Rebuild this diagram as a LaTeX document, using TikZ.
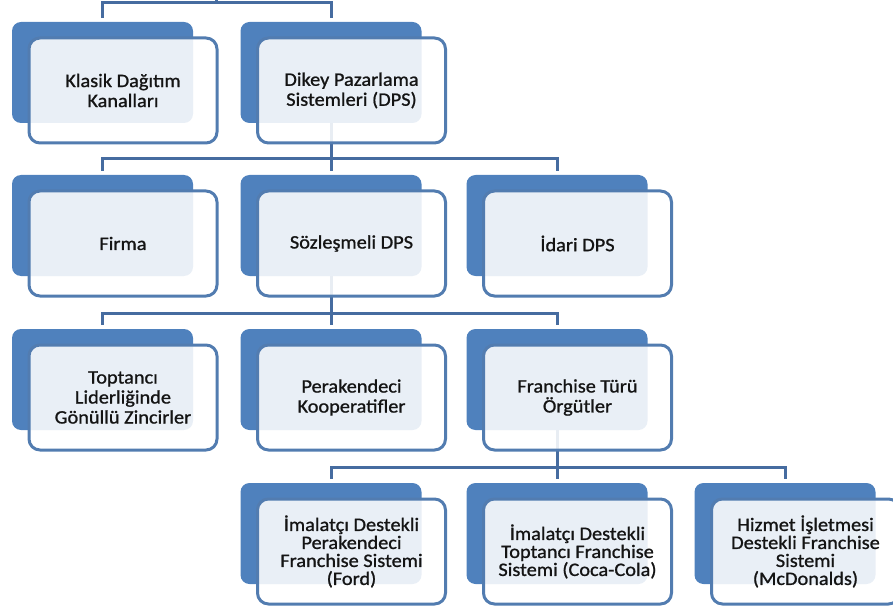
\documentclass[tikz,border=0pt]{standalone}
\usepackage{fontspec}
\setmainfont{Carlito}[FakeStretch=1.07, FakeBold=1]
\pgfdeclarelayer{background}
\pgfsetlayers{background,main}
\definecolor{levelblue}{RGB}{79,129,189}
\definecolor{rimblue}{RGB}{82,124,176}
\definecolor{linkblue}{RGB}{70,108,160}
\definecolor{inkgray}{RGB}{20,20,20}
\tikzset{
  backbox/.style={draw=none, fill=levelblue, rounded corners=9pt,
    minimum width=181pt, minimum height=101pt, inner sep=0pt, outer sep=0pt,
    anchor=north west},
  frontbox/.style={draw=rimblue, line width=3pt, fill=white, fill opacity=0.88,
    text opacity=1, rounded corners=11pt, minimum width=188pt, minimum height=105pt,
    inner sep=0pt, outer sep=0pt, anchor=north west, align=center, text=inkgray,
    font=\fontsize{19}{20}\selectfont},
  smalltext/.style={font=\fontsize{19}{18}\selectfont},
  conn/.style={draw=linkblue, line width=3pt, line join=miter},
}
\begin{document}
\begin{tikzpicture}[x=1pt, y=-1pt]
\useasboundingbox (0,0) rectangle (893,612);
\clip (0,0) rectangle (893,612);

% level 1
\node[backbox]  (b11) at (12,22) {};
\node[frontbox] (f11) at (29,38) {Klasik Dağıtım\\Kanalları};
\node[backbox]  (b12) at (240.5,22) {};
\node[frontbox] (f12) at (257.5,38) {Dikey Pazarlama\\Sistemleri (DPS)};

% level 2
\node[backbox]  (b20) at (12,175) {};
\node[frontbox] (f20) at (29,191) {Firma};
\node[backbox]  (b21) at (240.5,175) {};
\node[frontbox] (f21) at (257.5,191) {Sözleşmeli DPS};
\node[backbox]  (b22) at (466.5,175) {};
\node[frontbox] (f22) at (483.5,191) {İdari DPS};

% level 3
\node[backbox]  (b30) at (12,329) {};
\node[frontbox] (f30) at (29,345) {Toptancı\\Liderliğinde\\Gönüllü Zincirler};
\node[backbox]  (b31) at (240.5,329) {};
\node[frontbox] (f31) at (257.5,345) {Perakendeci\\Kooperatifler};
\node[backbox]  (b32) at (466.5,329) {};
\node[frontbox] (f32) at (483.5,345) {Franchise Türü\\Örgütler};

% level 4
\node[backbox]  (b41) at (240.5,483) {};
\node[frontbox, smalltext] (f41) at (257.5,499) {İmalatçı Destekli\\Perakendeci\\Franchise Sistemi\\(Ford)};
\node[backbox]  (b42) at (466.5,483) {};
\node[frontbox, smalltext] (f42) at (483.5,499) {İmalatçı Destekli\\Toptancı Franchise\\Sistemi (Coca-Cola)};
\node[backbox]  (b43) at (694.5,483) {};
\node[frontbox, smalltext] (f43) at (711.5,499) {Hizmet İşletmesi\\Destekli Franchise\\Sistemi\\(McDonalds)};

% bus lines
\coordinate (bus1) at (0,3);
\coordinate (bus2) at (0,159);
\coordinate (bus3) at (0,313);
\coordinate (bus4) at (0,467);
\coordinate (up) at (216,0);

\begin{pgfonlayer}{background}
  \clip (0,0) rectangle (893,612);
  \foreach \c in {b11,b12}
    \draw[conn] (up) |- (bus1 -| \c.north) -- ([yshift=4pt]\c.north);
  \foreach \c in {b20,b21,b22}
    \draw[conn] (b12.south) |- (bus2 -| \c.north) -- ([yshift=4pt]\c.north);
  \foreach \c in {b30,b31,b32}
    \draw[conn] (b21.south) |- (bus3 -| \c.north) -- ([yshift=4pt]\c.north);
  \foreach \c in {b41,b42,b43}
    \draw[conn] (b32.south) |- (bus4 -| \c.north) -- ([yshift=4pt]\c.north);
\end{pgfonlayer}
\end{tikzpicture}
\end{document}
